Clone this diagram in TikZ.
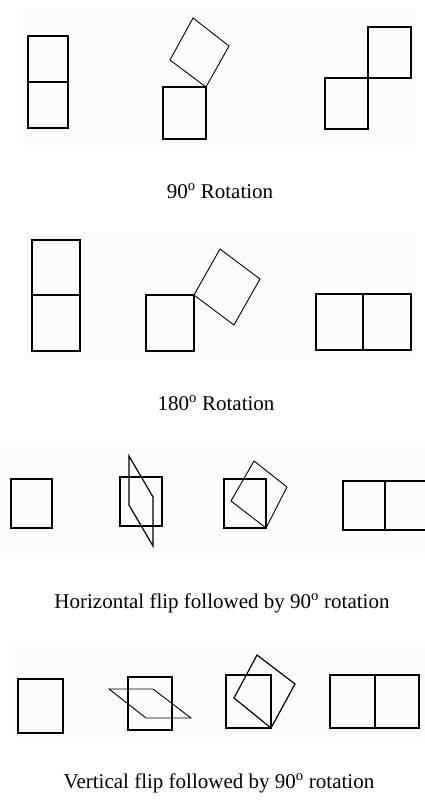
\documentclass[tikz,border=0pt]{standalone}
\usepackage{fontspec}
\setmainfont{Liberation Serif}
\usepackage{tikz}
\usetikzlibrary{positioning}

\begin{document}
\begin{tikzpicture}[
x=1pt, y=-1pt,
tile/.style={draw, line width=1.2pt, line join=miter},
turned/.style={draw, line width=0.9pt},
panel/.style={fill=black!1.2, draw=none},
caption/.style={anchor=base, inner sep=0pt, font=\fontsize{21}{25}\selectfont}
]
\useasboundingbox (0,0) rectangle (425,804);
\clip (0,0) rectangle (425,804);

% faint panels behind the rows
\fill[panel] (23,8) rectangle (415,147);
\fill[panel] (25,232) rectangle (415,360);
\fill[panel] (0,445) rectangle (425,555);
\fill[panel] (13,643) rectangle (425,737);

% 90 degree rotation
\draw[tile] (28,36) rectangle (68,128);
\draw[tile] (28,82) -- (68,82);
\draw[tile] (163,87) rectangle (206,139);
\draw[turned] (206,87) -- (229,46) -- (193,18) -- (170,60) -- cycle;
\draw[tile] (325,78) rectangle (368,129);
\draw[tile] (368,27) rectangle (411,78);
\node[caption] (cap90) at (220,198) {90\textsuperscript{o} Rotation};

% 180 degree rotation
\draw[tile] (32,240) rectangle (80,351);
\draw[tile] (32,295) -- (80,295);
\draw[tile] (146,295) rectangle (194,351);
\draw[turned] (194,295) -- (220,249) -- (260,279) -- (234,325) -- cycle;
\draw[tile] (316,294) rectangle (411,350);
\draw[tile] (363,294) -- (363,350);
\node[caption] (cap180) at (216,410) {180\textsuperscript{o} Rotation};

% horizontal flip, then rotation
\draw[tile] (11,479) rectangle (52,528);
\draw[tile] (120,477) rectangle (162,526);
\draw[tile] (129,456) -- (153,497) -- (153,546) -- (129,505) -- cycle;
\draw[tile] (224,479) rectangle (266,528);
\draw[turned] (266,528) -- (287,487) -- (254,461) -- (231,501) -- cycle;
\draw[tile] (343,481) rectangle (427,530);
\draw[tile, line width=1.8pt] (385,481) -- (385,530);
\node[caption] (caphflip) at (222,608) {Horizontal flip followed by 90\textsuperscript{o} rotation};

% vertical flip, then rotation
\draw[tile] (18,679) rectangle (63,733);
\draw[tile] (128,677) rectangle (172,730);
\draw[turned] (109,689) -- (153,689) -- (191,718) -- (146,718) -- cycle;
\draw[tile] (226,675) rectangle (271,728);
\draw[tile] (271,728) -- (295,684) -- (257,655) -- (234,698) -- cycle;
\draw[tile] (330,675) rectangle (419,728);
\draw[tile] (375,675) -- (375,728);
\node[caption] (capvflip) at (219,788) {Vertical flip followed by 90\textsuperscript{o} rotation};
\end{tikzpicture}
\end{document}
